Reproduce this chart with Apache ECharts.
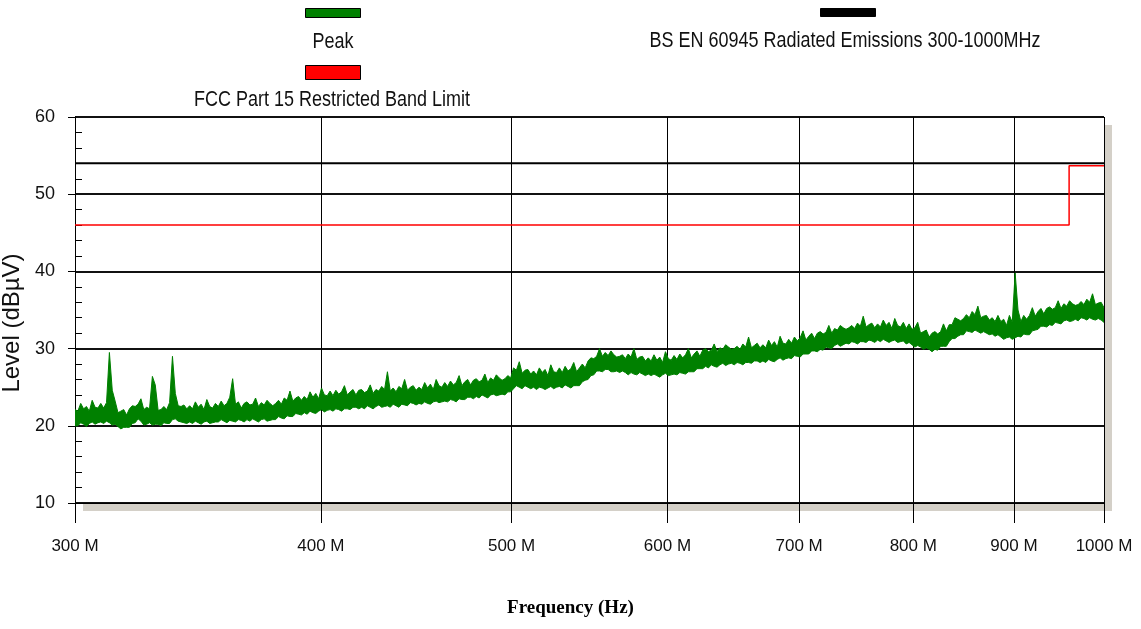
<!DOCTYPE html>
<html>
<head>
<meta charset="utf-8">
<script src="https://cdn.jsdelivr.net/npm/echarts@6/dist/echarts.min.js"></script>
<style>
html,body{margin:0;padding:0;background:#fff;}
#chart{width:1141px;height:629px;}
</style>
</head>
<body>
<div id="chart"></div>
<script>
// ---- Data ----
const FREQ_START_MHZ = 300;
const FREQ_STOP_MHZ = 1000;
const xTicksMHz = [300, 400, 500, 600, 700, 800, 900, 1000];
const yMin = 10, yMax = 60, yStep = 10;

// Peak trace (dBuV): the dense analyser sweep is read as an envelope,
// upper and lower level per bin, 360 log-spaced bins from 300 MHz to 1000 MHz.
const peakMax = [
  22.1,21.9,22.9,22.2,22.5,21.9,23.3,22.4,22.3,22.9,
  22.3,23.0,29.5,24.6,23.2,21.7,21.9,22.1,21.4,22.2,
  22.6,22.5,22.8,23.5,22.1,22.4,22.2,26.4,25.3,22.0,
  22.1,22.5,22.1,23.0,29.0,24.2,22.6,22.5,22.7,22.2,
  22.6,22.2,23.1,22.4,22.8,22.1,23.4,22.5,22.3,22.9,
  22.5,23.2,22.6,22.9,23.7,26.1,22.8,23.1,22.3,22.9,
  23.1,22.7,22.8,23.6,22.5,23.0,22.7,23.3,22.9,22.6,
  22.9,23.3,22.8,23.6,23.3,24.5,23.2,23.6,23.8,23.3,
  23.8,23.4,24.4,23.7,24.2,23.5,24.9,24.0,23.9,24.5,
  23.9,24.6,24.1,24.4,25.2,24.0,24.4,24.7,24.0,24.6,
  24.7,24.3,24.5,25.3,24.2,24.7,24.5,25.1,24.7,27.0,
  24.5,24.9,24.4,25.1,24.8,26.0,24.6,25.0,25.2,24.6,
  25.0,24.7,25.6,24.9,25.4,24.7,26.0,25.2,25.0,25.6,
  25.1,25.8,25.3,25.6,26.5,25.2,25.7,26.0,25.3,25.9,
  26.1,25.7,25.9,26.7,25.6,26.2,25.9,26.6,26.2,25.9,
  26.1,26.5,26.2,27.5,27.2,28.3,26.8,27.2,27.3,26.7,
  27.1,26.6,27.5,26.9,27.3,26.5,27.9,27.0,26.9,27.5,
  26.9,27.7,27.1,27.4,28.2,27.0,27.5,28.0,27.5,28.4,
  28.8,28.7,29.0,30.0,29.0,29.5,29.1,29.7,29.2,28.9,
  29.0,29.2,28.7,29.3,28.9,30.0,28.6,28.9,29.0,28.4,
  28.8,28.4,29.2,28.5,28.9,28.2,29.6,28.7,28.5,29.1,
  28.6,29.3,28.8,29.2,30.0,28.8,29.3,29.7,29.0,29.8,
  30.0,29.6,29.8,30.6,29.6,30.1,29.9,30.5,30.2,29.9,
  30.0,30.3,29.9,30.6,30.2,31.5,30.1,30.4,30.7,30.1,
  30.5,30.1,31.1,30.4,30.9,30.2,31.6,30.7,30.6,31.2,
  30.7,31.5,31.0,31.4,32.3,31.1,31.6,32.0,31.3,32.0,
  32.2,31.9,32.1,33.0,32.0,32.6,32.4,33.0,32.7,32.5,
  32.7,33.0,32.6,33.3,32.9,34.2,32.8,33.1,33.3,32.7,
  33.2,32.8,33.7,33.0,33.4,32.6,33.9,33.0,32.8,33.4,
  32.6,33.2,32.5,32.7,33.4,32.0,32.2,32.4,31.5,32.0,
  32.2,31.9,32.2,33.2,32.3,33.1,33.1,34.0,33.8,33.6,
  33.9,34.4,34.0,34.8,34.4,35.5,34.0,34.2,34.3,33.7,
  34.0,33.5,34.3,33.5,33.8,33.0,34.3,33.4,39.8,35.0,
  33.5,34.3,33.8,34.3,35.3,34.2,34.8,35.2,34.5,35.2,
  35.4,35.1,35.3,36.2,35.2,35.8,35.5,36.2,35.8,35.6,
  35.7,36.1,35.7,36.4,36.0,37.1,35.7,35.9,36.0,35.3
];
const peakMin = [
  20.0,20.0,20.4,20.2,19.9,20.3,20.5,20.2,20.4,20.5,
  20.3,20.6,20.4,20.1,20.2,19.9,19.6,19.8,19.8,19.8,
  20.3,20.4,20.9,20.6,20.1,20.2,20.4,20.1,20.2,20.2,
  20.0,20.4,20.3,20.3,20.8,20.9,20.6,20.5,20.4,20.3,
  20.5,20.3,20.6,20.4,20.2,20.5,20.6,20.3,20.4,20.5,
  20.5,20.8,20.6,20.4,20.7,20.6,20.5,20.8,20.7,20.5,
  20.8,20.6,20.9,20.7,20.5,20.8,20.9,20.6,20.7,20.8,
  20.8,21.2,21.0,20.9,21.3,21.2,21.2,21.6,21.5,21.4,
  21.7,21.5,21.9,21.7,21.6,21.9,22.1,21.8,22.0,22.1,
  21.9,22.2,22.1,21.9,22.2,22.2,22.1,22.4,22.4,22.2,
  22.4,22.2,22.6,22.4,22.2,22.5,22.7,22.4,22.5,22.6,
  22.4,22.8,22.6,22.4,22.8,22.7,22.6,23.0,22.9,22.7,
  22.9,22.8,23.1,22.9,22.8,23.1,23.2,23.0,23.1,23.2,
  23.1,23.4,23.3,23.1,23.5,23.4,23.4,23.7,23.7,23.5,
  23.8,23.6,24.0,23.8,23.6,24.0,24.1,23.9,24.0,24.1,
  24.0,24.4,24.4,24.8,25.2,25.0,24.8,25.2,25.0,24.8,
  25.0,24.7,25.0,24.9,24.7,24.9,25.1,24.8,25.0,25.1,
  24.9,25.3,25.1,24.9,25.2,25.2,25.2,25.7,25.9,26.0,
  26.5,26.6,27.1,27.1,27.0,27.3,27.3,27.0,27.0,27.1,
  26.9,27.1,26.9,26.6,26.9,26.7,26.6,26.9,26.7,26.5,
  26.7,26.5,26.7,26.5,26.3,26.6,26.8,26.5,26.6,26.7,
  26.6,26.9,26.8,26.7,27.0,27.0,27.0,27.4,27.4,27.4,
  27.7,27.5,27.9,27.7,27.6,27.9,28.1,27.8,28.0,28.1,
  27.9,28.2,28.1,27.9,28.2,28.2,28.1,28.4,28.4,28.2,
  28.4,28.2,28.6,28.4,28.3,28.6,28.8,28.5,28.7,28.8,
  28.7,29.1,29.0,28.9,29.3,29.3,29.3,29.7,29.7,29.6,
  29.9,29.8,30.2,30.1,30.0,30.4,30.6,30.3,30.5,30.7,
  30.6,30.9,30.8,30.6,30.9,30.9,30.8,31.1,31.0,30.8,
  31.1,30.9,31.2,31.0,30.8,31.0,31.1,30.8,30.9,31.0,
  30.6,30.8,30.5,30.2,30.4,30.2,29.9,30.1,29.9,29.6,
  29.9,29.8,30.3,30.3,30.3,30.9,31.3,31.3,31.6,31.8,
  31.8,32.3,32.2,32.1,32.4,32.2,32.0,32.2,32.0,31.8,
  31.9,31.6,31.8,31.5,31.2,31.4,31.5,31.2,31.4,31.6,
  31.5,31.9,31.8,31.8,32.3,32.4,32.5,32.9,32.9,32.8,
  33.1,33.0,33.4,33.3,33.2,33.6,33.7,33.5,33.6,33.8,
  33.6,34.0,33.9,33.7,34.0,33.8,33.7,33.9,33.7,33.4
];

// Limit lines (MHz, dBuV)
const fccFreq  = [300, 960, 960, 1000];
const fccLevel = [46, 46, 53.7, 53.7];
const bsFreq   = [300, 1000];
const bsLevel  = [54, 54];

const NAME_PEAK = 'Peak';
const NAME_FCC = 'FCC Part 15 Restricted Band Limit';
const NAME_BS = 'BS EN 60945 Radiated Emissions 300-1000MHz';

// ---- Build ----
const lg = Math.log10;
const binFreq = peakMax.map((_, i) =>
  FREQ_START_MHZ * Math.pow(FREQ_STOP_MHZ / FREQ_START_MHZ, i / (peakMax.length - 1)));
const pairs = (fs, vs) => fs.map((f, i) => [lg(f), vs[i]]);
const xTickVals = xTicksMHz.map(lg);
const bandData = binFreq.map((f, i) => [lg(f), peakMin[i], peakMax[i]]);

const SANS = '"Liberation Sans", Arial, sans-serif';
const GREEN = '#008000';
const legendText = (text, x, y) => ({
  type: 'text', x: x, y: y, scaleY: 1.2, silent: true,
  style: {text: text, textAlign: 'center', textVerticalAlign: 'middle', font: '18px ' + SANS, fill: '#111'}
});

// Envelope band: one polygon through the upper values and back along the lower values
function renderBand(params, api) {
  if (params.dataIndex !== 0) return null;
  const upper = bandData.map(d => api.coord([d[0], d[2]]));
  const lower = bandData.map(d => api.coord([d[0], d[1]])).reverse();
  return {
    type: 'polygon',
    shape: {points: upper.concat(lower)},
    style: {fill: GREEN, stroke: GREEN, lineWidth: 1, lineJoin: 'miter'}
  };
}

const chart = echarts.init(document.getElementById('chart'), null, {renderer: 'canvas'});
chart.setOption({
  animation: false,
  backgroundColor: '#fff',
  grid: {
    left: 75, right: 37, top: 117, bottom: 126,
    outerBoundsMode: 'none', containLabel: false,
    show: true, backgroundColor: '#fff',
    borderWidth: 0,
    shadowColor: '#d4d0c8', shadowOffsetX: 8, shadowOffsetY: 8, shadowBlur: 0
  },
  legend: [
    {data: [NAME_PEAK], left: 305, top: 8, padding: 0, itemWidth: 55, itemHeight: 9, icon: 'rect',
     formatter: () => '', itemStyle: {borderColor: '#000', borderWidth: 1}, selectedMode: false},
    {data: [NAME_FCC], left: 305, top: 65, padding: 0, itemWidth: 55, itemHeight: 14, icon: 'rect',
     formatter: () => '', itemStyle: {borderColor: '#000', borderWidth: 1}, selectedMode: false},
    {data: [NAME_BS], left: 820, top: 8, padding: 0, itemWidth: 55, itemHeight: 8, icon: 'rect',
     formatter: () => '', itemStyle: {borderColor: '#000', borderWidth: 1}, selectedMode: false}
  ],
  graphic: [
    legendText(NAME_PEAK, 333, 42),
    legendText(NAME_FCC, 332, 100),
    legendText(NAME_BS, 845, 41)
  ],
  xAxis: {
    type: 'value', min: lg(FREQ_START_MHZ), max: lg(FREQ_STOP_MHZ),
    name: 'Frequency (Hz)', nameLocation: 'middle', nameGap: 96,
    nameTextStyle: {fontFamily: '"Liberation Serif", "Times New Roman", serif', fontWeight: 'bold', fontSize: 19,
      color: '#000', padding: [0, 38, 0, 0]},
    axisLine: {show: true, onZero: false, lineStyle: {color: '#000', width: 1}},
    axisTick: {show: true, length: 20, customValues: xTickVals, lineStyle: {color: '#000', width: 1}},
    axisLabel: {customValues: xTickVals, margin: 35, fontSize: 17, fontFamily: SANS, color: '#111',
      formatter: v => Math.round(Math.pow(10, v)) + ' M'},
    splitLine: {show: true, lineStyle: {color: '#000', width: 1}}
  },
  yAxis: [
    {
      type: 'value', min: yMin, max: yMax, interval: yStep,
      name: 'Level (dBµV)', nameLocation: 'middle', nameGap: 44,
      nameTextStyle: {fontFamily: SANS, fontSize: 24, color: '#111', padding: [0, 26, 0, 0]},
      axisLine: {show: true, lineStyle: {color: '#000', width: 1}},
      axisTick: {show: true, length: 7, lineStyle: {color: '#000'}},
      axisLabel: {fontSize: 18, fontFamily: SANS, color: '#111', margin: 20},
      splitLine: {show: true, lineStyle: {color: '#111', width: 2}}
    },
    {
      type: 'value', min: yMin, max: yMax, interval: yStep, position: 'left',
      axisLine: {show: false},
      axisTick: {show: false, inside: true},
      minorTick: {show: true, splitNumber: 5, length: 7, lineStyle: {color: '#000'}},
      axisLabel: {show: false},
      splitLine: {show: false}
    }
  ],
  series: [
    {name: NAME_PEAK, type: 'custom', coordinateSystem: 'cartesian2d', renderItem: renderBand,
     data: bandData, encode: {x: 0, y: [1, 2]}, itemStyle: {color: GREEN}, color: GREEN, z: 3, clip: true},
    {name: NAME_FCC, type: 'line', data: pairs(fccFreq, fccLevel), showSymbol: false, symbol: 'none',
     color: '#ff0000', lineStyle: {color: '#ff0000', width: 1.5}, z: 4},
    {name: NAME_BS, type: 'line', data: pairs(bsFreq, bsLevel), showSymbol: false, symbol: 'none', yAxisIndex: 1,
     color: '#000', lineStyle: {color: '#000', width: 2}, z: 4}
  ]
});
</script>
</body>
</html>
